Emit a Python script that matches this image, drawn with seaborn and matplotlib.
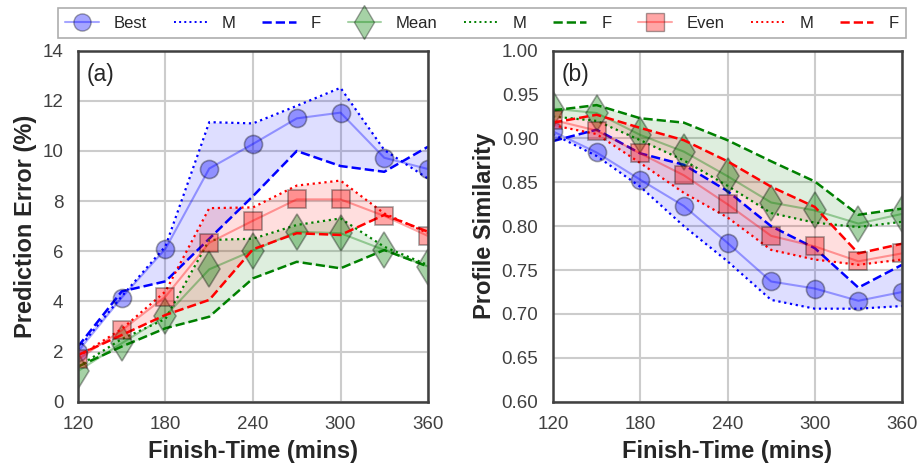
import numpy as np
import seaborn as sns
from matplotlib import pyplot as plt
from matplotlib.lines import Line2D

# finish-time bins (mins)
times = [120, 150, 180, 210, 240, 270, 300, 330, 360]

# (a) prediction error (%)
err_best = [2.0, 4.15, 6.1, 9.3, 10.28, 11.3, 11.53, 9.73, 9.28]
err_best_m = [2.1, 4.2, 6.2, 11.15, 11.1, 11.8, 12.52, 10.04, 8.9]
err_best_f = [2.2, 4.4, 4.8, 6.5, 8.2, 10.0, 9.4, 9.17, 10.17]
err_mean = [1.22, 2.33, 3.42, 5.28, 6.03, 6.78, 6.72, 6.05, 5.39]
err_mean_m = [1.4, 2.5, 3.3, 6.45, 6.5, 7.05, 7.31, 6.18, 5.45]
err_mean_f = [1.4, 2.2, 2.93, 3.39, 4.92, 5.58, 5.32, 6.05, 5.39]
err_even = [1.69, 2.85, 4.19, 6.34, 7.22, 8.07, 8.07, 7.41, 6.61]
err_even_m = [1.8, 2.9, 4.4, 7.72, 7.75, 8.62, 8.82, 7.51, 6.72]
err_even_f = [1.86, 2.66, 3.46, 4.06, 6.08, 6.72, 6.65, 7.45, 6.78]

# (b) profile similarity
sim_best = [0.908, 0.884, 0.853, 0.823, 0.781, 0.737, 0.729, 0.715, 0.725]
sim_best_m = [0.905, 0.880, 0.845, 0.800, 0.760, 0.716, 0.706, 0.706, 0.709]
sim_best_f = [0.897, 0.910, 0.883, 0.870, 0.840, 0.800, 0.775, 0.730, 0.756]
sim_mean = [0.934, 0.929, 0.904, 0.885, 0.857, 0.827, 0.818, 0.803, 0.814]
sim_mean_m = [0.925, 0.920, 0.898, 0.875, 0.846, 0.815, 0.804, 0.799, 0.805]
sim_mean_f = [0.932, 0.938, 0.923, 0.918, 0.898, 0.874, 0.851, 0.813, 0.820]
sim_even = [0.921, 0.909, 0.883, 0.858, 0.825, 0.789, 0.777, 0.760, 0.769]
sim_even_m = [0.915, 0.905, 0.872, 0.838, 0.810, 0.773, 0.762, 0.756, 0.762]
sim_even_f = [0.918, 0.927, 0.912, 0.898, 0.874, 0.845, 0.822, 0.769, 0.780]

sns.set_style("whitegrid", {"grid.color": ".8", "axes.edgecolor": ".25"})
plt.rcParams['font.family'] = ['Liberation Sans', 'DejaVu Sans']

fig = plt.figure(figsize=(9.18, 4.67), dpi=100)
ax1 = fig.add_axes([78 / 918, 65.3 / 467, 350 / 918, 351 / 467])
ax2 = fig.add_axes([553 / 918, 65.3 / 467, 349 / 918, 351 / 467])

styles = [("blue", "o", 13), ("green", "d", 18), ("red", "s", 13)]


def draw_group(ax, mean, m, f, color, marker, ms):
    ax.fill_between(times, m, f, color=color, alpha=0.13, lw=0)
    sns.lineplot(x=times, y=m, ax=ax, color=color, ls=":", lw=1.6)
    sns.lineplot(x=times, y=f, ax=ax, color=color, ls="--", lw=1.8)
    sns.lineplot(x=times, y=mean, ax=ax, color=color, lw=1.5, alpha=0.35,
                 marker=marker, markersize=ms, markeredgecolor="k",
                 markeredgewidth=1.2)


groups_a = [(err_best, err_best_m, err_best_f),
            (err_mean, err_mean_m, err_mean_f),
            (err_even, err_even_m, err_even_f)]
groups_b = [(sim_best, sim_best_m, sim_best_f),
            (sim_mean, sim_mean_m, sim_mean_f),
            (sim_even, sim_even_m, sim_even_f)]

for (mean, m, f), (c, mk, ms) in zip(groups_a, styles):
    draw_group(ax1, mean, m, f, c, mk, ms)
for (mean, m, f), (c, mk, ms) in zip(groups_b, styles):
    draw_group(ax2, mean, m, f, c, mk, ms)

for ax, label in [(ax1, "(a)"), (ax2, "(b)")]:
    ax.set_xlim(120, 360)
    ax.set_xticks([120, 180, 240, 300, 360])
    ax.set_xlabel("Finish-Time (mins)", fontsize=17, fontweight="bold",
                  labelpad=5)
    ax.tick_params(labelsize=13.5, colors=".25", pad=7)
    ax.grid(True, lw=1.5)
    for sp in ax.spines.values():
        sp.set_linewidth(1.8)
    ax.text(0.025, 0.965, label, transform=ax.transAxes, fontsize=16.5,
            va="top", ha="left")

ax1.set_ylim(0, 14)
ax1.set_yticks(range(0, 15, 2))
ax1.set_ylabel("Prediction Error (%)", fontsize=17, fontweight="bold")
ax2.set_ylim(0.6, 1.0)
ax2.set_yticks(np.arange(0.60, 1.001, 0.05))
ax2.set_yticklabels([f"{v:.2f}" for v in np.arange(0.60, 1.001, 0.05)])
ax2.set_ylabel("Profile Similarity", fontsize=17, fontweight="bold")

handles, labels = [], []
for name, (c, mk, ms) in zip(["Best", "Mean", "Even"], styles):
    handles.append(Line2D([], [], color=c, lw=1.5, alpha=0.35, marker=mk,
                          markersize=ms * 0.95, markeredgecolor="k"))
    handles.append(Line2D([], [], color=c, ls=":", lw=1.4))
    handles.append(Line2D([], [], color=c, ls="--", lw=1.8))
    labels += [name, "M", "F"]

leg = fig.legend(handles, labels, loc="upper center", ncol=9,
                 bbox_to_anchor=(0.525, 1.0), frameon=True, fancybox=False,
                 edgecolor=".6", handlelength=2.0, handletextpad=0.9,
                 columnspacing=1.6, borderpad=0.45, fontsize=12)
leg.get_frame().set_linewidth(1.2)

fig.savefig("out.png", dpi=100)
